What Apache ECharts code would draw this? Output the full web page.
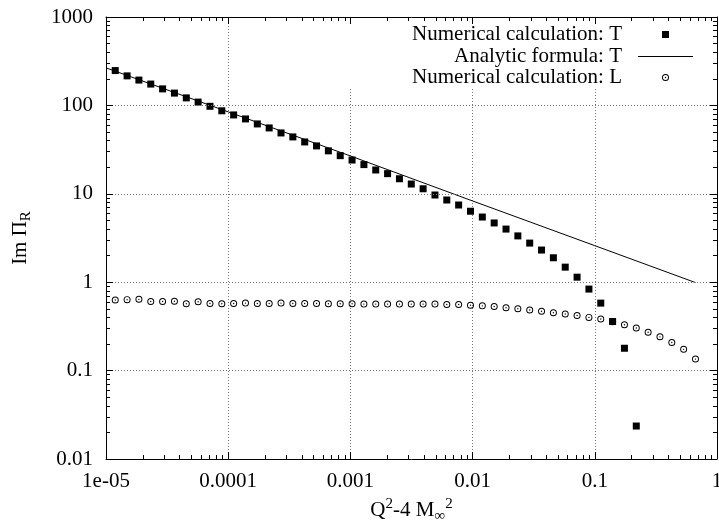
<!DOCTYPE html>
<html>
<head>
<meta charset="utf-8">
<script src="https://cdn.jsdelivr.net/npm/echarts@6/dist/echarts.min.js"></script>
<style>html,body{margin:0;padding:0;background:#fff;}#c{width:719px;height:521px;}</style>
</head>
<body>
<div id="c"></div>
<script>
// Q^2 - 4 M^2 sample points
const q = [1.190e-5, 1.488e-5, 1.859e-5, 2.324e-5, 2.905e-5, 3.631e-5, 4.539e-5, 5.674e-5, 7.092e-5, 8.866e-5,
  1.108e-4, 1.385e-4, 1.731e-4, 2.164e-4, 2.705e-4, 3.381e-4, 4.227e-4, 5.283e-4, 6.604e-4, 8.255e-4,
  1.032e-3, 1.290e-3, 1.612e-3, 2.015e-3, 2.519e-3, 3.149e-3, 3.936e-3, 4.920e-3, 6.150e-3, 7.688e-3,
  9.611e-3, 1.201e-2, 1.502e-2, 1.877e-2, 2.346e-2, 2.933e-2, 3.666e-2, 4.582e-2, 5.728e-2, 7.161e-2,
  8.951e-2, 0.1119, 0.1399, 0.1748, 0.2185, 0.2731, 0.3414, 0.4267, 0.5334, 0.6668];
// Numerical calculation: T (first 45 points)
const numT = [247.8, 215.8, 193.4, 174.3, 153.8, 137.8, 121.6, 109.0, 97.7, 86.9,
  78.0, 70.3, 61.7, 55.6, 48.8, 44.0, 38.6, 34.8, 30.6, 27.0,
  24.1, 21.4, 18.6, 16.9, 14.8, 12.9, 11.4, 9.69, 8.51, 7.47,
  6.35, 5.46, 4.68, 3.99, 3.34, 2.77, 2.31, 1.89, 1.48, 1.14,
  0.836, 0.580, 0.359, 0.179, 0.0236];
// Numerical calculation: L
const numL = [0.63, 0.635, 0.64, 0.605, 0.605, 0.61, 0.57, 0.60, 0.575, 0.57,
  0.575, 0.58, 0.575, 0.575, 0.58, 0.575, 0.575, 0.575, 0.57, 0.57,
  0.57, 0.565, 0.565, 0.565, 0.565, 0.565, 0.565, 0.565, 0.56, 0.56,
  0.55, 0.54, 0.53, 0.515, 0.50, 0.485, 0.47, 0.452, 0.437, 0.42,
  0.40, 0.383, 0.357, 0.33, 0.303, 0.272, 0.241, 0.208, 0.174, 0.135];
// Analytic formula: T
const anaQ = [1e-5, 1e-4, 1e-3, 1e-2, 1e-1, 0.6668];
const anaT = [266, 84.5, 26.8, 8.3, 2.59, 0.99];

const xTickLabels = ['1e-05', '0.0001', '0.001', '0.01', '0.1', '1'];
const yTickLabels = ['0.01', '0.1', '1', '10', '100', '1000'];
const names = ['Numerical calculation: T', 'Analytic formula: T', 'Numerical calculation: L'];

const FONT = 'Liberation Serif';
const FS = 21;
const dotCircle = 'path://M0,-10A10,10 0 1,1 0,10A10,10 0 1,1 0,-10ZM0,-7.2A7.2,7.2 0 1,0 0,7.2A7.2,7.2 0 1,0 0,-7.2ZM0,-2A2,2 0 1,1 0,2A2,2 0 1,1 0,-2Z';

const chart = echarts.init(document.getElementById('c'), null, {renderer: 'canvas'});

function xFmt(v) { return xTickLabels[Math.round(Math.log10(v)) + 5] || ''; }
function yFmt(v) { return yTickLabels[Math.round(Math.log10(v)) + 2] || ''; }

const tickCommon = {
  axisLine: {show: true, lineStyle: {color: '#000', width: 1}},
  axisTick: {show: true, inside: true, length: 7, lineStyle: {color: '#000'}},
  minorTick: {show: true, splitNumber: 9, length: 4, lineStyle: {color: '#000'}},
  splitLine: {show: false}
};
const gridLine = {show: true, lineStyle: {color: '#777', type: [1, 2], width: 1}};

function legendFor(i, top, right, itemWidth, itemHeight, padRight, icon) {
  const item = {name: names[i]};
  if (icon) item.icon = icon;
  return {
    data: [item],
    right: right, top: top, padding: 0,
    align: 'right', itemWidth: itemWidth, itemHeight: itemHeight,
    symbolKeepAspect: false,
    selectedMode: false,
    itemStyle: {opacity: 1},
    textStyle: {fontFamily: FONT, fontSize: FS, color: '#000', lineHeight: 20, padding: [0, padRight, 0, 0]}
  };
}

const option = {
  animation: false,
  backgroundColor: '#fff',
  grid: {left: 106, right: 2, top: 17, bottom: 62, outerBoundsMode: 'none', containLabel: false},
  legend: [
    legendFor(0, 24, 50, 7, 7, 35, 'rect'),
    legendFor(1, 46, 26, 55, 1, 11, 'rect'),
    legendFor(2, 67, 50, 7, 7, 35, null)
  ],
  graphic: [{
    type: 'rect', z: 1, silent: true,
    shape: {x: 300, y: 18, width: 416, height: 70},
    style: {fill: '#fff'}
  }],
  xAxis: [
    Object.assign({
      type: 'log', logBase: 10, min: 1e-5, max: 1, position: 'bottom', z: 5,
      axisLabel: {formatter: xFmt, fontFamily: FONT, fontSize: FS, color: '#000', margin: 12},
      name: '{n|Q}{sup|2}{n|-4 M}{sub|∞}{sup|2}',
      nameLocation: 'middle', nameGap: 37,
      nameTextStyle: {
        fontFamily: FONT, fontSize: FS, color: '#000',
        rich: {
          n: {fontFamily: FONT, fontSize: FS, color: '#000', lineHeight: 27},
          sup: {fontFamily: FONT, fontSize: 15, color: '#000', verticalAlign: 'top'},
          sub: {fontFamily: FONT, fontSize: 15, color: '#000', verticalAlign: 'bottom'}
        }
      }
    }, tickCommon),
    Object.assign({
      type: 'log', logBase: 10, min: 1e-5, max: 1, position: 'top', z: 5,
      axisLabel: {show: false}
    }, tickCommon),
    {
      type: 'log', logBase: 10, min: 1e-5, max: 1, position: 'bottom', z: 0,
      axisLine: {show: false}, axisTick: {show: false}, axisLabel: {show: false},
      splitLine: gridLine
    }
  ],
  yAxis: [
    Object.assign({}, tickCommon, {
      type: 'log', logBase: 10, min: 0.01, max: 1000, position: 'left', z: 5,
      axisLabel: {formatter: yFmt, fontFamily: FONT, fontSize: FS, color: '#000', margin: 13},
      splitLine: gridLine,
      name: '{n|Im Π}{sub|R}',
      nameLocation: 'middle', nameGap: 72,
      nameTextStyle: {
        fontFamily: FONT, fontSize: FS, color: '#000',
        rich: {
          n: {fontFamily: FONT, fontSize: FS, color: '#000', lineHeight: 28},
          sub: {fontFamily: FONT, fontSize: 15, color: '#000', verticalAlign: 'bottom'}
        }
      }
    }),
    Object.assign({
      type: 'log', logBase: 10, min: 0.01, max: 1000, position: 'right', z: 5,
      axisLabel: {show: false}
    }, tickCommon)
  ],
  series: [
    {
      name: names[0], type: 'scatter', xAxisIndex: 0, yAxisIndex: 0,
      symbol: 'rect', symbolSize: 7, z: 3,
      itemStyle: {color: '#000', opacity: 1},
      data: numT.map((v, i) => [q[i], v])
    },
    {
      name: names[1], type: 'line', xAxisIndex: 0, yAxisIndex: 0,
      symbol: 'none', showSymbol: false, z: 3,
      lineStyle: {color: '#000', width: 1},
      itemStyle: {color: '#000'},
      data: anaT.map((v, i) => [anaQ[i], v])
    },
    {
      name: names[2], type: 'scatter', xAxisIndex: 0, yAxisIndex: 0,
      symbol: dotCircle, symbolSize: 7, z: 4,
      itemStyle: {color: '#000', opacity: 1},
      data: numL.map((v, i) => [q[i], v])
    }
  ]
};
chart.setOption(option);
</script>
</body>
</html>
